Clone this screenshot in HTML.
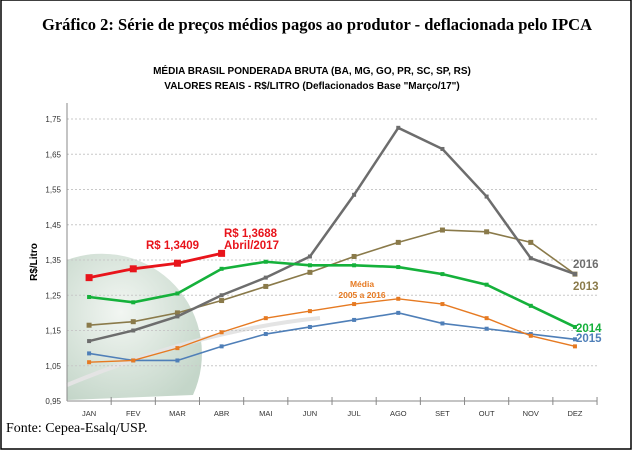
<!DOCTYPE html>
<html><head><meta charset="utf-8"><style>
body{margin:0;background:#fff;width:635px;height:451px;overflow:hidden}
svg{display:block}
</style></head><body>
<svg width="635" height="451" xmlns="http://www.w3.org/2000/svg">
<defs>
<radialGradient id="gl" cx="0.4" cy="0.4" r="0.7"><stop offset="0" stop-color="#f2f6f2"/><stop offset="1" stop-color="#c4d6c9"/></radialGradient>
</defs>
<rect x="1" y="0" width="630" height="449" fill="#fff" stroke="#000" stroke-width="1.5"/>
<text x="317" y="30" text-anchor="middle" font-family="Liberation Serif, serif" font-weight="bold" font-size="16.5">Gráfico 2: Série de preços médios pagos ao produtor - deflacionada pelo IPCA</text>
<text x="312" y="74" text-anchor="middle" font-family="Liberation Sans, sans-serif" font-weight="bold" font-size="10">MÉDIA BRASIL PONDERADA BRUTA (BA, MG, GO, PR, SC, SP, RS)</text>
<text x="312" y="89" text-anchor="middle" font-family="Liberation Sans, sans-serif" font-weight="bold" font-size="10">VALORES REAIS - R$/LITRO (Deflacionados Base "Março/17")</text>
<g>
<path d="M67 260 A100 100 0 0 1 193 395 L67 400 Z" fill="url(#gl)"/>
<path d="M67 385 Q200 330 320 318" stroke="#e4e4e4" stroke-width="4" fill="none"/>
</g>
<g id="grid"></g>
<g id="axes"></g>
<g id="series"></g>
<text transform="translate(37,262) rotate(-90)" text-anchor="middle" font-family="Liberation Sans, sans-serif" font-weight="bold" font-size="10">R$/Litro</text>
<text x="6" y="432" font-family="Liberation Serif, serif" font-size="14">Fonte: Cepea-Esalq/USP.</text>
<g font-family="Liberation Sans, sans-serif" font-weight="bold">
<text x="146" y="249" fill="#e8141b" font-size="11.5">R$ 1,3409</text>
<text x="224" y="237" fill="#e8141b" font-size="11.5">R$ 1,3688</text>
<text x="224" y="249" fill="#e8141b" font-size="11.5">Abril/2017</text>
<text x="362" y="287" fill="#e67a22" font-size="8.5" text-anchor="middle">Média</text>
<text x="362" y="298" fill="#e67a22" font-size="8.5" text-anchor="middle">2005 a 2016</text>
<text x="573" y="268" fill="#6d6d6d" font-size="11.5">2016</text>
<text x="573" y="290" fill="#8a7a4a" font-size="11.5">2013</text>
<text x="576" y="332" fill="#15b13b" font-size="11.5">2014</text>
<text x="576" y="342" fill="#4f7fb8" font-size="11.5">2015</text>
</g>
</svg>
<script>
const months=["JAN","FEV","MAR","ABR","MAI","JUN","JUL","AGO","SET","OUT","NOV","DEZ"];
const yTicks=[0.95,1.05,1.15,1.25,1.35,1.45,1.55,1.65,1.75];
const s2016=[1.12,1.15,1.19,1.25,1.30,1.36,1.535,1.725,1.665,1.53,1.355,1.31];
const s2013=[1.165,1.175,1.20,1.235,1.275,1.315,1.36,1.40,1.435,1.43,1.40,1.31];
const s2014=[1.245,1.23,1.255,1.325,1.345,1.335,1.335,1.33,1.31,1.28,1.22,1.16];
const sMedia=[1.06,1.065,1.10,1.145,1.185,1.205,1.225,1.24,1.225,1.185,1.135,1.105];
const s2015=[1.085,1.065,1.065,1.105,1.14,1.16,1.18,1.20,1.17,1.155,1.14,1.125];
const s2017=[1.30,1.325,1.3409,1.3688];
const NS="http://www.w3.org/2000/svg";
const x0=67,step=44.17;
function xs(i){return x0+step*(i+0.5);}
function ys(v){return 401-(v-0.95)*352.5;}
function mk(t,a,p){const e=document.createElementNS(NS,t);for(const k in a)e.setAttribute(k,a[k]);p.appendChild(e);return e;}
const grid=document.getElementById('grid'),axes=document.getElementById('axes'),ser=document.getElementById('series');
yTicks.forEach(v=>{
 if(v>0.95){const l=mk('line',{x1:x0,x2:597,y1:ys(v),y2:ys(v),stroke:'#c8c8c8','stroke-dasharray':'2,2'},grid);
 
 }
 const t=mk('text',{x:x0-6,y:ys(v)+3,'text-anchor':'end','font-family':'Liberation Sans, sans-serif','font-size':'8',fill:'#333'},axes);
 t.textContent=v.toFixed(2).replace('.',',');
 
 
});
const ya=mk('line',{x1:x0,x2:x0,y1:103,y2:401,stroke:'#888'},axes);


const xa=mk('line',{x1:x0,x2:597,y1:401,y2:401,stroke:'#888'},axes);


months.forEach((m,i)=>{
 mk('line',{x1:x0+step*(i+1),x2:x0+step*(i+1),y1:397,y2:405,stroke:'#888'},axes);
 const t=mk('text',{x:xs(i),y:416,'text-anchor':'middle','font-family':'Liberation Sans, sans-serif','font-size':'7.5',fill:'#333'},axes);
 t.textContent=m;
 
 
});
function draw(d,color,w,ms,name){
 const g=mk('g',{},ser);
 
 
 mk('polyline',{points:d.map((v,i)=>xs(i)+','+ys(v)).join(' '),fill:'none',stroke:color,'stroke-width':w},g);
 d.forEach((v,i)=>{const r=mk('rect',{x:xs(i)-ms/2,y:ys(v)-ms/2,width:ms,height:ms,fill:color},g);
  
  });
}
draw(s2015,'#4f7fb8',1.6,4,'series-2015');
draw(sMedia,'#e67a22',1.4,4,'series-media');
draw(s2013,'#8a7a4a',1.6,5,'series-2013');
draw(s2016,'#6d6d6d',2.5,4,'series-2016');
draw(s2014,'#15b13b',2.6,4,'series-2014');
draw(s2017,'#e8141b',2.8,7,'series-2017');
</script>
</body></html>
